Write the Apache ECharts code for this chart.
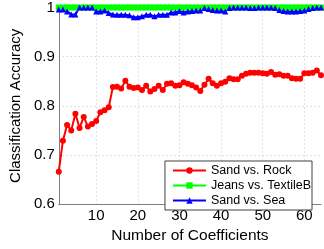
<!DOCTYPE html>
<html>
<head>
<meta charset="utf-8">
<script src="https://cdn.jsdelivr.net/npm/echarts@6/dist/echarts.min.js"></script>
<style>html,body{margin:0;padding:0;background:#fff}#c{width:324px;height:249px}</style>
</head>
<body>
<div id="c"></div>
<script>
const coeffs = Array.from({length: 64}, (_, i) => i + 1);
const sandRock = [0.666,0.729,0.761,0.750,0.784,0.755,0.777,0.758,0.763,0.769,0.787,0.791,0.797,0.838,0.839,0.835,
  0.851,0.839,0.836,0.837,0.832,0.841,0.829,0.834,0.841,0.832,0.845,0.846,0.841,0.842,0.848,0.845,0.842,0.837,0.830,0.843,
  0.855,0.846,0.841,0.846,0.849,0.856,0.854,0.854,0.861,0.865,0.867,0.867,0.867,0.866,0.865,0.869,0.863,0.864,0.861,0.861,
  0.856,0.855,0.855,0.866,0.866,0.867,0.872,0.862];
const jeansTextile = [1,1,1,1,1,1,1,1,1,1,1,1,1,1,1,1,1,1,1,1,1,1,1,1,1,1,1,1,1,1,1,1,
  1,1,1,1,1,1,1,1,1,1,1,1,1,1,1,1,1,1,1,1,1,1,1,1,1,1,1,1,1,1,1,1];
const sandSea = [0.996,0.996,0.992,0.986,0.986,1.0,1.0,1.0,1.0,0.992,0.992,0.994,0.989,0.986,0.985,0.985,
  0.985,0.984,0.980,0.980,0.982,0.985,0.985,0.982,0.985,0.985,0.985,0.990,0.990,0.993,0.990,0.992,0.993,0.994,0.994,0.999,
  0.997,0.995,0.994,0.994,0.992,0.999,1.0,1.0,1.0,1.0,0.999,0.999,1.0,1.0,1.0,1.0,0.999,0.995,0.993,0.992,
  0.992,0.992,0.993,0.994,0.997,0.999,1.0,1.0];
const xTicks = [10, 20, 30, 40, 50, 60];
const seriesNames = ['Sand vs. Rock', 'Jeans vs. TextileB', 'Sand vs. Sea'];

const font = '"Liberation Sans", Arial, sans-serif';
const pair = arr => coeffs.map((x, i) => [x, arr[i]]);
const chart = echarts.init(document.getElementById('c'), null, {renderer: 'canvas'});
chart.setOption({
  animation: false,
  grid: {left: 47, right: 3, top: 7, bottom: 37, containLabel: false},
  xAxis: {
    type: 'value', min: 1, max: 64,
    name: 'Number of Coefficients', nameLocation: 'middle', nameGap: 18,
    nameTextStyle: {fontFamily: font, fontSize: 15.5, color: '#000'},
    axisLine: {show: true, lineStyle: {color: '#808080', width: 1}},
    axisTick: {show: false, customValues: xTicks},
    axisLabel: {customValues: xTicks, fontFamily: font, fontSize: 15, color: '#000', margin: 4},
    splitLine: {show: true, lineStyle: {color: '#c8c8c8', type: [1, 3], width: 1}}
  },
  yAxis: {
    type: 'value', min: 0.6, max: 1, interval: 0.1,
    name: 'Classification Accuracy', nameLocation: 'middle', nameGap: 33,
    nameTextStyle: {fontFamily: font, fontSize: 15, color: '#000'},
    axisLine: {show: true, lineStyle: {color: '#808080', width: 1}},
    axisTick: {show: false},
    axisLabel: {fontFamily: font, fontSize: 15, color: '#000', margin: 4,
      formatter: v => (Math.abs(v - 1) < 1e-9 ? '1' : v.toFixed(1))},
    splitLine: {show: true, lineStyle: {color: '#c8c8c8', type: [1, 3], width: 1}}
  },
  legend: {
    orient: 'vertical', right: 12, bottom: 39,
    backgroundColor: '#fff', borderColor: '#404040', borderWidth: 1, borderRadius: 0,
    padding: [2, 1, 2, 7], itemGap: 0, itemWidth: 33, itemHeight: 8,
    textStyle: {fontFamily: font, fontSize: 12.5, color: '#000', lineHeight: 15},
    data: seriesNames
  },
  series: [
    {name: seriesNames[0], type: 'line', data: pair(sandRock), color: '#ff0000',
     lineStyle: {width: 2}, symbol: 'circle', symbolSize: 6, itemStyle: {color: '#ff0000'}},
    {name: seriesNames[1], type: 'line', data: pair(jeansTextile), color: '#00ff00',
     lineStyle: {width: 2}, symbol: 'rect', symbolSize: 6, itemStyle: {color: '#00ff00'}},
    {name: seriesNames[2], type: 'line', data: pair(sandSea), color: '#0000ff',
     lineStyle: {width: 2}, symbol: 'triangle', symbolSize: 6, itemStyle: {color: '#0000ff'}}
  ]
});
</script>
</body>
</html>
